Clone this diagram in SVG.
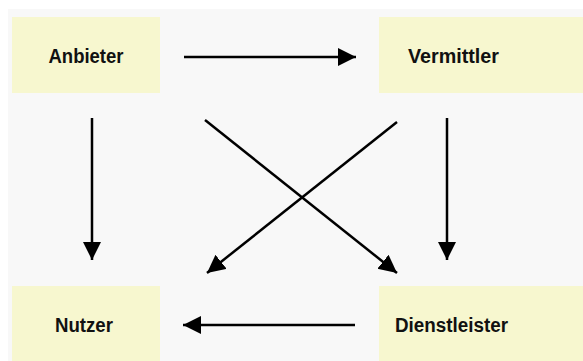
<svg xmlns="http://www.w3.org/2000/svg" width="583" height="361" viewBox="0 0 583 361">
<defs>
<style>
.box{fill:#f7f7cf}
.lbl{font-family:"Liberation Sans",Arial,sans-serif;font-weight:bold;font-size:20px;fill:#111;text-anchor:middle}
.con{stroke:#000;stroke-width:2.5;fill:none;marker-end:url(#ah)}
</style>
<marker id="ah" markerUnits="userSpaceOnUse" markerWidth="20" markerHeight="20" refX="18" refY="9" orient="auto" viewBox="0 0 20 20">
<path d="M0,0 L18,9 L0,18 z" fill="#000"/>
</marker>
</defs>
<rect width="583" height="361" fill="#ffffff"/>
<rect x="8" y="9" width="575" height="352" fill="#f8f8f8"/>
<g id="anbieter"><rect class="box" x="12" y="17" width="148" height="76"/><text class="lbl" x="86" y="63" textLength="75" lengthAdjust="spacingAndGlyphs">Anbieter</text></g>
<g id="vermittler"><rect class="box" x="379" y="17" width="204" height="76"/><text class="lbl" x="453.5" y="63" textLength="91" lengthAdjust="spacingAndGlyphs">Vermittler</text></g>
<g id="nutzer"><rect class="box" x="12" y="286" width="148" height="75"/><text class="lbl" x="84" y="332" textLength="58" lengthAdjust="spacingAndGlyphs">Nutzer</text></g>
<g id="dienstleister"><rect class="box" x="379" y="286" width="204" height="75"/><text class="lbl" x="451.5" y="332" textLength="113" lengthAdjust="spacingAndGlyphs">Dienstleister</text></g>
<g id="connectors">
<line class="con" x1="184" y1="57" x2="356" y2="57"/>
<line class="con" x1="92" y1="118" x2="92" y2="260"/>
<line class="con" x1="447" y1="118" x2="447" y2="260"/>
<line class="con" x1="205" y1="120" x2="397" y2="273"/>
<line class="con" x1="397" y1="122" x2="207" y2="273"/>
<line class="con" x1="355" y1="325" x2="183" y2="325"/>
</g>
</svg>
